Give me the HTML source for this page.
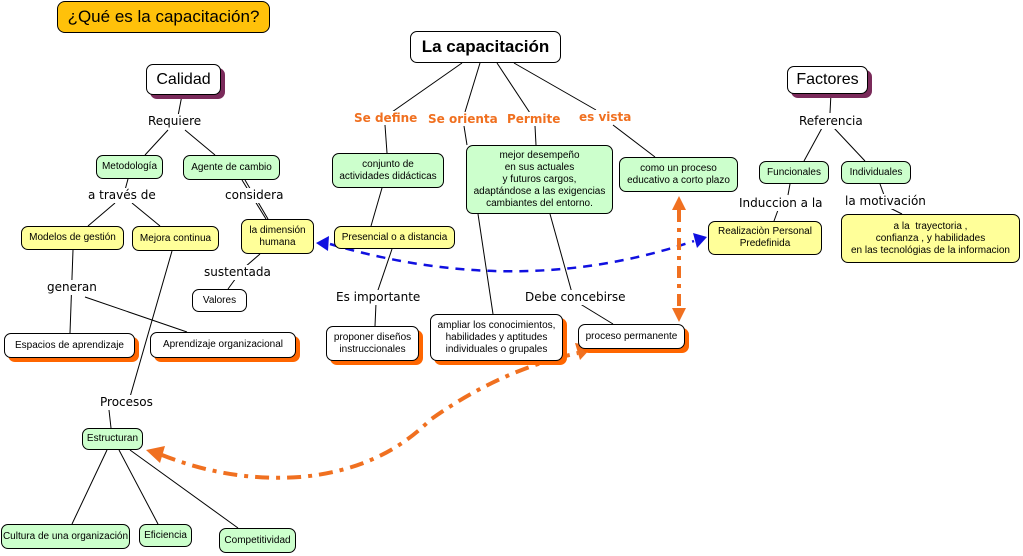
<!DOCTYPE html>
<html><head><meta charset="utf-8"><style>
html,body{margin:0;padding:0;background:#fff;}
#c{position:relative;width:1023px;height:556px;overflow:hidden;font-family:"Liberation Sans","DejaVu Sans",sans-serif;}
.n{position:absolute;box-sizing:border-box;border:1px solid #000;border-radius:7px;display:flex;align-items:center;justify-content:center;text-align:center;font-size:10px;line-height:12px;color:#000;}
.g{background:#ccffcc;}
.y{background:#ffff99;}
.w{background:#fff;}
.os{box-shadow:4px 4px 0 #ff6600;}
.ps{box-shadow:4px 4px 0 #7a2a5a;}
.l{position:absolute;color:#000;background:#fff;white-space:nowrap;line-height:15px;font-family:"DejaVu Sans",sans-serif;font-size:12px;}
.o{position:absolute;font-size:12px;font-weight:bold;color:#f07020;white-space:nowrap;font-family:"DejaVu Sans",sans-serif;background:#fff;}
svg{position:absolute;left:0;top:0;}
</style></head><body><div id="c">
<svg width="1023" height="556">
<g stroke="#000" stroke-width="1" fill="none">
<line x1="182" y1="95" x2="178" y2="116"/>
<line x1="168" y1="130" x2="145" y2="155"/>
<line x1="185" y1="130" x2="215" y2="155"/>
<line x1="128" y1="179" x2="125" y2="190"/>
<line x1="115" y1="203" x2="88" y2="226"/>
<line x1="132" y1="203" x2="160" y2="226"/>
<line x1="242" y1="180" x2="266" y2="219"/>
<line x1="245" y1="180" x2="268" y2="219"/>
<line x1="260" y1="254" x2="245" y2="267"/>
<line x1="236" y1="278" x2="228" y2="289"/>
<line x1="73" y1="250" x2="70" y2="333"/>
<line x1="85" y1="297" x2="187" y2="332"/>
<line x1="172" y1="251" x2="130" y2="397"/>
<line x1="109" y1="410" x2="111" y2="428"/>
<line x1="107" y1="450" x2="72" y2="524"/>
<line x1="119" y1="450" x2="158" y2="524"/>
<line x1="130" y1="450" x2="238" y2="528"/>
<line x1="462" y1="63" x2="392" y2="112"/>
<line x1="385" y1="125" x2="387" y2="153"/>
<line x1="480" y1="63" x2="465" y2="112"/>
<line x1="464" y1="126" x2="467" y2="145"/>
<line x1="497" y1="63" x2="530" y2="113"/>
<line x1="535" y1="126" x2="536" y2="145"/>
<line x1="514" y1="63" x2="596" y2="110"/>
<line x1="613" y1="125" x2="655" y2="157"/>
<line x1="382" y1="188" x2="371" y2="226"/>
<line x1="392" y1="249" x2="377" y2="293"/>
<line x1="376" y1="303" x2="375" y2="326"/>
<line x1="478" y1="214" x2="493" y2="314"/>
<line x1="550" y1="214" x2="572" y2="293"/>
<line x1="577" y1="302" x2="613" y2="324"/>
<line x1="831" y1="93" x2="830" y2="113"/>
<line x1="822" y1="128" x2="804" y2="161"/>
<line x1="834" y1="128" x2="865" y2="161"/>
<line x1="790" y1="184" x2="788" y2="195"/>
<line x1="778" y1="210" x2="774" y2="221"/>
<line x1="880" y1="184" x2="884" y2="195"/>
<line x1="890" y1="208" x2="902" y2="214"/>
</g>
<path d="M330 244 Q520 300 694 241" stroke="#1010e0" stroke-width="2.5" stroke-dasharray="9,7" fill="none"/>
<polygon points="316,243 329,236 328,251" fill="#1010e0"/>
<polygon points="707,237 693,233 697,248" fill="#1010e0"/>
<line x1="679" y1="210" x2="679" y2="308" stroke="#f07020" stroke-width="4" stroke-dasharray="12,6,4,6"/>
<polygon points="679,196 672,210 686,210" fill="#f07020"/>
<polygon points="679,322 672,308 686,308" fill="#f07020"/>
<path d="M162 455 Q230 482 300 477 Q380 470 430 420 Q500 370 578 353" stroke="#f07020" stroke-width="4" stroke-dasharray="14,7,4,7" fill="none"/>
<polygon points="146,450 165,446 160,463" fill="#f07020"/>
<polygon points="593,346 575,343 580,360" fill="#f07020"/>
</svg>

<div class="n" style="left:57px;top:1px;width:213px;height:32px;background:#ffc10a;font-size:17px;border-radius:8px;">¿Qué es la capacitación?</div>
<div class="n w" style="left:410px;top:31px;width:151px;height:32px;font-size:17px;font-weight:bold;">La capacitación</div>
<div class="n w ps" style="left:146px;top:64px;width:75px;height:31px;font-size:16px;">Calidad</div>
<div class="n w ps" style="left:787px;top:66px;width:81px;height:28px;font-size:16px;">Factores</div>

<div class="l" style="left:148px;top:114px;">Requiere</div>
<div class="n g" style="left:96px;top:155px;width:67px;height:24px;">Metodología</div>
<div class="n g" style="left:183px;top:155px;width:97px;height:25px;">Agente de cambio</div>
<div class="l" style="left:88px;top:188px;">a través de</div>
<div class="l" style="left:225px;top:188px;">considera</div>
<div class="n y" style="left:21px;top:226px;width:103px;height:24px;">Modelos de gestión</div>
<div class="n y" style="left:132px;top:226px;width:87px;height:25px;">Mejora continua</div>
<div class="n y" style="left:241px;top:219px;width:73px;height:35px;">la dimensión<br>humana</div>
<div class="l" style="left:204px;top:265px;">sustentada</div>
<div class="n w" style="left:192px;top:289px;width:55px;height:23px;">Valores</div>
<div class="l" style="left:47px;top:280px;">generan</div>
<div class="n w os" style="left:4px;top:333px;width:131px;height:25px;">Espacios de aprendizaje</div>
<div class="n w os" style="left:150px;top:332px;width:146px;height:26px;">Aprendizaje organizacional</div>
<div class="l" style="left:100px;top:395px;">Procesos</div>
<div class="n g" style="left:82px;top:428px;width:61px;height:22px;">Estructuran</div>
<div class="n g" style="left:1px;top:524px;width:129px;height:25px;">Cultura de una organización</div>
<div class="n g" style="left:139px;top:524px;width:53px;height:23px;">Eficiencia</div>
<div class="n g" style="left:219px;top:528px;width:77px;height:25px;">Competitividad</div>

<div class="o" style="left:354px;top:111px;">Se define</div>
<div class="o" style="left:428px;top:112px;">Se orienta</div>
<div class="o" style="left:507px;top:112px;">Permite</div>
<div class="o" style="left:579px;top:110px;">es vista</div>
<div class="n g" style="left:332px;top:153px;width:112px;height:35px;">conjunto de<br>actividades didácticas</div>
<div class="n g" style="left:466px;top:145px;width:147px;height:69px;">mejor desempeño<br>en sus actuales<br>y futuros cargos,<br>adaptándose a las exigencias<br>cambiantes del entorno.</div>
<div class="n g" style="left:619px;top:157px;width:119px;height:35px;">como un proceso<br>educativo a corto plazo</div>
<div class="n y" style="left:334px;top:226px;width:121px;height:23px;">Presencial o a distancia</div>
<div class="l" style="left:336px;top:290px;">Es importante</div>
<div class="l" style="left:525px;top:290px;">Debe concebirse</div>
<div class="n w os" style="left:326px;top:326px;width:93px;height:35px;">proponer diseños<br>instruccionales</div>
<div class="n w os" style="left:430px;top:314px;width:133px;height:47px;">ampliar los conocimientos,<br>habilidades y aptitudes<br>individuales o grupales</div>
<div class="n w os" style="left:578px;top:324px;width:107px;height:25px;">proceso permanente</div>

<div class="l" style="left:799px;top:114px;">Referencia</div>
<div class="n g" style="left:759px;top:161px;width:70px;height:23px;">Funcionales</div>
<div class="n g" style="left:841px;top:161px;width:70px;height:23px;">Individuales</div>
<div class="l" style="left:739px;top:196px;">Induccion a la</div>
<div class="l" style="left:845px;top:194px;">la motivación</div>
<div class="n y" style="left:708px;top:221px;width:114px;height:34px;">Realizaciòn Personal<br>Predefinida</div>
<div class="n y" style="left:841px;top:214px;width:179px;height:49px;">a la&nbsp; trayectoria ,<br>confianza , y habilidades<br>en las tecnológias de la informacion</div>
</div></body></html>
